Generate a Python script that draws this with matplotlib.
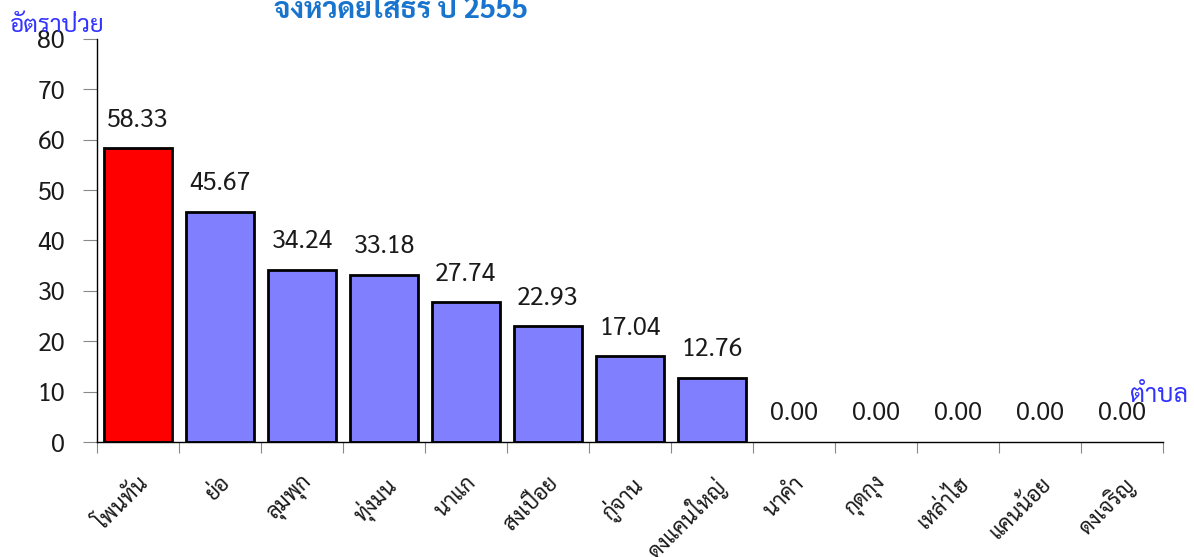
import matplotlib
matplotlib.use("Agg")
import matplotlib.pyplot as plt

plt.rcParams['font.family'] = ['Sarabun', 'Noto Sans Thai', 'DejaVu Sans']

# ตำบล (sub-districts) and sickness rate
tambon = ['โพนทัน', 'ย่อ', 'ลุมพุก', 'ทุ่งมน', 'นาแก', 'สงเปือย', 'กู่จาน',
          'ดงแคนใหญ่', 'นาคำ', 'กุดกุง', 'เหล่าไฮ', 'แคนน้อย', 'ดงเจริญ']
rate = [58.33, 45.67, 34.24, 33.18, 27.74, 22.93, 17.04, 12.76,
        0.00, 0.00, 0.00, 0.00, 0.00]
yticks = [0, 10, 20, 30, 40, 50, 60, 70, 80]

colors = ['#FF0000'] + ['#8080FF'] * (len(rate) - 1)
widths = [2 if v > 0 else 0 for v in rate]

fig = plt.figure(figsize=(11.94, 5.57), dpi=100)
ax = fig.add_axes([97/1194, 1 - 442/557, (1163 - 97)/1194, (442 - 39)/557])

x = list(range(len(tambon)))
ax.bar(x, rate, width=0.83, color=colors, edgecolor='black', linewidth=widths)

for xi, v in zip(x, rate):
    ax.text(xi, v + 3.1, f"{v:.2f}", ha='center', va='bottom', fontsize=18,
            color='#1a1a1a')

ax.set_xlim(-0.5, len(tambon) - 0.5)
ax.set_ylim(0, 80)
ax.set_yticks(yticks)
ax.set_yticklabels([str(t) for t in yticks], fontsize=18, color='#1a1a1a')
ax.tick_params(axis='y', length=10, direction='out', pad=13, color='#888888')

# ticks at category boundaries, labels centred under bars
ax.set_xticks([i - 0.5 for i in range(len(tambon) + 1)])
ax.set_xticklabels([])
ax.tick_params(axis='x', length=8, direction='out', color='#888888')
ax.set_xticks(x, minor=True)
ax.set_xticklabels(tambon, minor=True, rotation=45, ha='right', rotation_mode='anchor',
                   fontsize=15.5, color='#1a1a1a')
ax.tick_params(axis='x', which='minor', length=0, pad=22)

for s in ['top', 'right']:
    ax.spines[s].set_visible(False)
ax.spines['left'].set_linewidth(1)
ax.spines['bottom'].set_linewidth(1)

fig.text(10/1194, 1 - 26/557, 'อัตราป่วย', color='#3333FF', fontsize=17.5, va='center', ha='left')
fig.text(1188/1194, 1 - 395/557, 'ตำบล', color='#3333FF', fontsize=18, va='center', ha='right')
fig.text(401/1194, 1 - 10/557, 'จังหวัดยโสธร ปี 2555', color='#1874CD', fontsize=20.5,
         fontweight='bold', ha='center', va='center')

fig.savefig("out.png", dpi=100)
